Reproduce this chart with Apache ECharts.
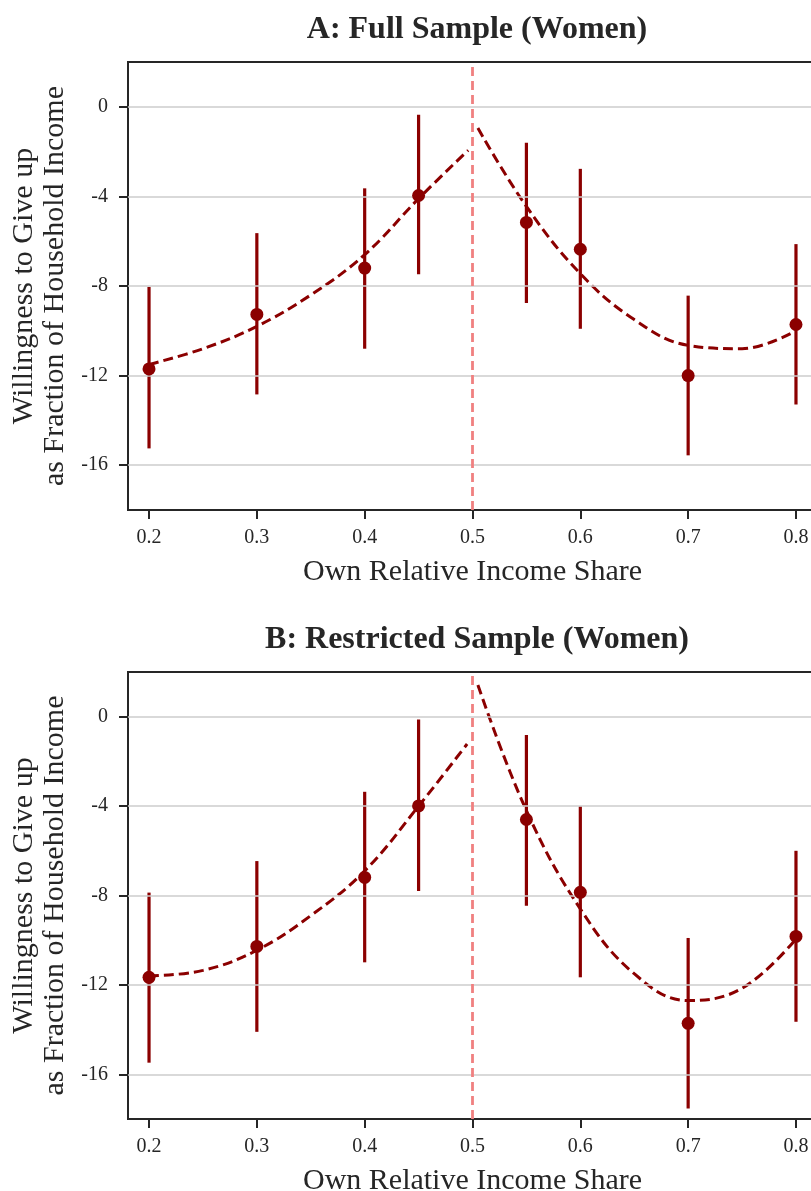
<!DOCTYPE html>
<html><head><meta charset="utf-8">
<script src="https://cdn.jsdelivr.net/npm/echarts@6/dist/echarts.min.js"></script>
<style>html,body{margin:0;padding:0;background:#fff}#c{width:811px;height:1191px}</style>
</head><body><div id="c"></div>
<script>
// ---- data ----
const xTicks = [0.2, 0.3, 0.4, 0.5, 0.6, 0.7, 0.8];
const yTicks = [-16, -12, -8, -4, 0];
const xPts = [0.2, 0.3, 0.4, 0.45, 0.55, 0.6, 0.7, 0.8];

// Panel A
const ptA = [-11.7, -9.27, -7.2, -3.96, -5.16, -6.36, -12.0, -9.72];
const loA = [-15.25, -12.84, -10.8, -7.47, -8.76, -9.91, -15.56, -13.29];
const hiA = [-8.04, -5.64, -3.64, -0.36, -1.61, -2.77, -8.43, -6.13];
const fitLeftXA = [0.2, 0.25, 0.3, 0.35, 0.4, 0.45, 0.496];
const fitLeftYA = [-11.5, -10.8, -9.8, -8.4, -6.6, -4.1, -1.94];
const fitRightXA = [0.505, 0.55, 0.6, 0.65, 0.7, 0.75, 0.8];
const fitRightYA = [-0.95, -4.45, -7.45, -9.5, -10.65, -10.8, -10.0];

// Panel B
const ptB = [-11.66, -10.28, -7.19, -3.99, -4.6, -7.86, -13.72, -9.83];
const loB = [-15.48, -14.1, -10.99, -7.8, -8.46, -11.66, -17.53, -13.65];
const hiB = [-7.87, -6.46, -3.36, -0.13, -0.82, -4.01, -9.9, -6.0];
const fitLeftXB = [0.2, 0.25, 0.3, 0.35, 0.4, 0.45, 0.495];
const fitLeftYB = [-11.6, -11.35, -10.45, -8.9, -6.9, -4.0, -1.22];
const fitRightXB = [0.505, 0.55, 0.6, 0.65, 0.7, 0.75, 0.8];
const fitRightYB = [1.42, -4.2, -8.6, -11.5, -12.7, -12.15, -9.95];

const titles = ['A: Full Sample (Women)', 'B: Restricted Sample (Women)'];
const xName = 'Own Relative Income Share';
const yName = 'Willingness to Give up\nas Fraction of Household Income';

// ---- styling ----
const FONT = 'Liberation Serif';
const DARK = '#8b0000';
const AXC = '#262626';
const grids = [
  {left: 128, top: 62, width: 689, height: 448},
  {left: 128, top: 672, width: 689, height: 447}
];

function zip(a, b) { return a.map((v, i) => [v, b[i]]); }

const panels = [
  {pt: ptA, lo: loA, hi: hiA, lx: fitLeftXA, ly: fitLeftYA, rx: fitRightXA, ry: fitRightYA},
  {pt: ptB, lo: loB, hi: hiB, lx: fitLeftXB, ly: fitLeftYB, rx: fitRightXB, ry: fitRightYB}
];

const option = {
  backgroundColor: '#fff',
  animation: false,
  title: titles.map((t, i) => ({
    text: t, left: 472, top: i === 0 ? 9 : 619, textAlign: 'center',
    textStyle: {fontFamily: FONT, fontWeight: 'bold', fontSize: 32, color: AXC}
  })),
  grid: grids.map(g => Object.assign({show: true, borderColor: AXC, borderWidth: 2,
    backgroundColor: 'transparent', containLabel: false, outerBoundsMode: 'none'}, g)),
  xAxis: grids.map((g, i) => ({
    type: 'value', gridIndex: i, min: 0.1805, max: 0.8195,
    name: xName, nameLocation: 'middle', nameGap: 47,
    nameTextStyle: {fontFamily: FONT, fontSize: 30, color: AXC},
    axisLine: {show: true, onZero: false, lineStyle: {color: AXC, width: 2}},
    axisTick: {show: true, length: 9, customValues: xTicks, lineStyle: {color: AXC, width: 2}},
    axisLabel: {customValues: xTicks, margin: 18, fontFamily: FONT, fontSize: 20, color: AXC,
      formatter: v => v.toFixed(1)},
    splitLine: {show: false}
  })),
  yAxis: grids.map((g, i) => ({
    type: 'value', gridIndex: i, min: -18, max: 2,
    name: yName, nameLocation: 'middle', nameRotate: 90, nameGap: 57,
    nameTextStyle: {fontFamily: FONT, fontSize: 30, color: AXC, lineHeight: 31, align: 'center'},
    axisLine: {show: true, onZero: false, lineStyle: {color: AXC, width: 2}},
    axisTick: {show: true, length: 9, customValues: yTicks, lineStyle: {color: AXC, width: 2}},
    axisLabel: {customValues: yTicks, margin: 20, fontFamily: FONT, fontSize: 20, color: AXC},
    splitLine: {show: false}
  })),
  series: []
};

panels.forEach((p, i) => {
  // background reference lines: grid lines + vertical threshold
  option.series.push({
    type: 'line', xAxisIndex: i, yAxisIndex: i, data: [], z: 1, silent: true,
    markLine: {
      silent: true, symbol: 'none', label: {show: false}, animation: false,
      data: yTicks.map(v => ({yAxis: v, lineStyle: {color: '#cccccc', width: 1.6, type: 'solid'}}))
        .concat([{xAxis: 0.5, lineStyle: {color: '#f08080', width: 2.8, type: [9, 5]}}])
    }
  });
  // fitted curves
  [[p.lx, p.ly], [p.rx, p.ry]].forEach(([xs, ys]) => {
    option.series.push({
      type: 'line', xAxisIndex: i, yAxisIndex: i, data: zip(xs, ys), smooth: 0.4,
      showSymbol: false, symbol: 'none', z: 3,
      lineStyle: {color: DARK, width: 3, type: [10, 5]}
    });
  });
  // error bars
  option.series.push({
    type: 'custom', xAxisIndex: i, yAxisIndex: i, z: 4,
    data: xPts.map((x, k) => [x, p.lo[k], p.hi[k]]),
    encode: {x: 0, y: [1, 2]},
    renderItem: (params, api) => {
      const a = api.coord([api.value(0), api.value(1)]);
      const b = api.coord([api.value(0), api.value(2)]);
      return {type: 'line', shape: {x1: a[0], y1: a[1], x2: b[0], y2: b[1]},
        style: {stroke: DARK, lineWidth: 3.2}};
    }
  });
  // point estimates
  option.series.push({
    type: 'scatter', xAxisIndex: i, yAxisIndex: i, z: 5,
    data: zip(xPts, p.pt), symbol: 'circle', symbolSize: 13,
    itemStyle: {color: DARK, opacity: 1}
  });
});

const chart = echarts.init(document.getElementById('c'), null, {renderer: 'canvas'});
chart.setOption(option);
</script>
</body></html>
